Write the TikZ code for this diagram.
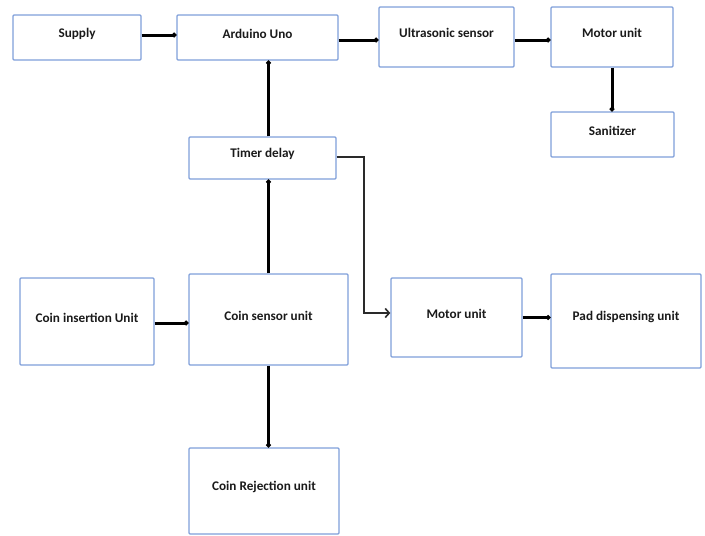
\documentclass[tikz,border=0pt]{standalone}
\usepackage{fontspec}
\setmainfont{Carlito}
\usetikzlibrary{arrows.meta}
\definecolor{boxblue}{HTML}{7F9FDA}
\definecolor{txt}{HTML}{1A1A1A}
\definecolor{darkline}{HTML}{2A2A2A}
\newcommand\lifttext[1]{\raisebox{4pt}[\height][\depth]{#1}}
\begin{document}
\begin{tikzpicture}[x=1pt,y=-1pt,
  blk/.style={draw=boxblue,line width=1.4pt,rounded corners=1pt,fill=white,
    inner sep=0pt,text=txt,font=\fontsize{13.2}{15}\selectfont\bfseries},
  conn/.style={line width=3pt,black,-{Circle[length=4.5pt]}},
  thinconn/.style={line width=1.8pt,darkline,-{Straight Barb[length=4pt,width=9pt,line width=1.6pt]}}]
\useasboundingbox (0,0) rectangle (705,536);
\node[blk,minimum width=128pt,minimum height=45pt] (supply) at (77,37.5) {\lifttext{Supply}};
\node[blk,minimum width=161pt,minimum height=45pt] (arduino) at (257.5,37.5) {\lifttext{Arduino Uno}};
\node[blk,minimum width=135pt,minimum height=60pt] (ultra) at (446.5,37) {\lifttext{Ultrasonic sensor}};
\node[blk,minimum width=122pt,minimum height=60pt] (motora) at (612,37) {\lifttext{Motor unit}};
\node[blk,minimum width=123pt,minimum height=45pt] (sanit) at (612.5,134.5) {\lifttext{Sanitizer}};
\node[blk,minimum width=147pt,minimum height=42pt] (timer) at (262.5,158) {\lifttext{Timer delay}};
\node[blk,minimum width=134pt,minimum height=87pt] (coinins) at (87,321.5) {\lifttext{Coin insertion Unit}};
\node[blk,minimum width=159pt,minimum height=91pt] (coinsens) at (268.5,319.5) {\lifttext{Coin sensor unit}};
\node[blk,minimum width=150pt,minimum height=86pt] (coinrej) at (264,491) {\lifttext{Coin Rejection unit}};
\node[blk,minimum width=131pt,minimum height=79pt] (motorb) at (456.5,317.5) {\lifttext{Motor unit}};
\node[blk,minimum width=150pt,minimum height=94pt] (pad) at (626,321) {\lifttext{Pad dispensing unit}};
% connectors
\draw[conn] ([yshift=2.5pt]supply.east) -- ([yshift=2.5pt]arduino.west);
\draw[conn] ([yshift=-2.5pt]arduino.east) -- ([yshift=-3pt]ultra.west);
\draw[conn] ([yshift=-3pt]ultra.east) -- ([yshift=-3pt]motora.west);
\draw[conn] (motora.south) -- (motora.south |- sanit.north);
\draw[conn] (timer.north -| coinsens.north) -- (coinsens.north |- arduino.south);
\draw[conn] (coinsens.north) -- (coinsens.north |- timer.south);
\draw[conn] ([yshift=-1.5pt]coinins.east) -- ([yshift=-3.5pt]coinsens.west);
\draw[conn] (coinsens.south) -- (coinsens.south |- coinrej.north);
\draw[conn] (motorb.east) -- ([yshift=3.5pt]pad.west);
\draw[thinconn] ([yshift=1pt]timer.east) -- ++(27,0) |- ([yshift=4.5pt]motorb.west);
\end{tikzpicture}
\end{document}
